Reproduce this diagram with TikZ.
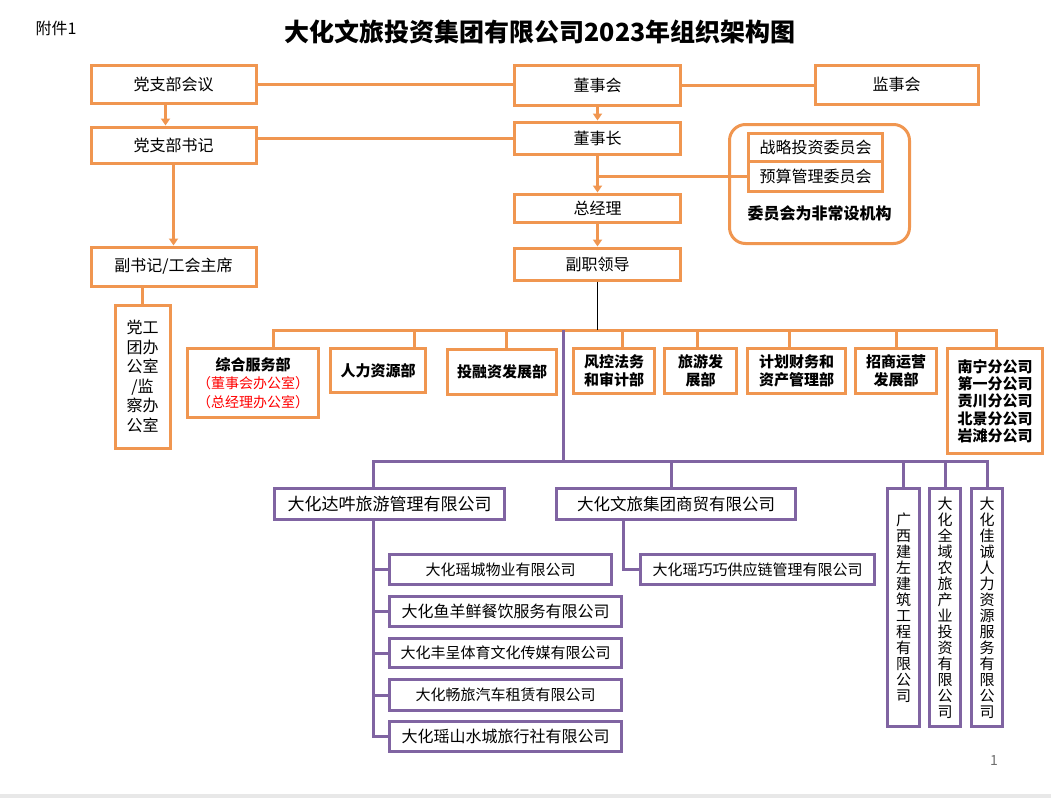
\documentclass[tikz,border=0pt]{standalone}
\usepackage{fontspec}
\setmainfont{Noto Sans CJK SC}
\usetikzlibrary{arrows.meta,calc,positioning}

\definecolor{orgline}{RGB}{240,150,80}
\definecolor{purline}{RGB}{128,100,162}
\definecolor{pgnum}{RGB}{110,110,110}
\definecolor{band}{RGB}{232,232,232}

\tikzset{
  sz/.style 2 args={minimum width=#1pt, minimum height=#2pt},
  obox/.style={draw=orgline, line width=3pt, fill=white, inner sep=0pt, align=center,
    font=\fontsize{16}{19}\selectfont},
  dept/.style={obox, font=\bfseries\fontsize{15}{18.5}\selectfont},
  pbox/.style={draw=purline, line width=3pt, fill=white, inner sep=0pt, align=center,
    font=\fontsize{15}{18}\selectfont},
  vcol/.style={pbox, font=\fontsize{15}{16}\selectfont},
  oline/.style={draw=orgline, line width=3pt},
  oarr/.style={oline, -{Triangle[length=7pt,width=9pt]}},
  pline/.style={draw=purline, line width=3pt},
}

\begin{document}
\begin{tikzpicture}[x=1pt, y=-1pt, >=Stealth]
    \useasboundingbox (0,0) rectangle (1051,798);

    % 标题
    \node[font=\fontsize{16}{19}\selectfont] (fj) at (56,28) {附件1};
    \node[font=\bfseries\fontsize{25}{30}\selectfont] (title) at (540,32) {大化文旅投资集团有限公司2023年组织架构图};

    % 党支部一列
    \node[obox, sz={165}{38}] (dzbhy) at (173.5,84) {党支部会议};
    \node[obox, sz={165}{36}] (dzbsj) at (173.5,145) {党支部书记};
    \node[obox, sz={165}{39}] (fsj) at (173.5,266.5) {副书记/工会主席};
    \node[obox, sz={55}{143}, font=\fontsize{16}{19.5}\selectfont] (dgt) at (142.5,376.5)
        {党工\\团办\\公室\\/监\\察办\\公室};

    % 董事会一列
    \node[obox, sz={166}{40}] (dsh) at (597.5,85.5) {董事会};
    \node[obox, sz={163}{39}] (jsh) at (896.5,84.5) {监事会};
    \node[obox, sz={166}{32}] (dsz) at (597.5,138) {董事长};
    \node[obox, sz={166}{28}] (zjl) at (597.5,208) {总经理};
    \node[obox, sz={166}{32}] (fzld) at (597.5,264) {副职领导};

    % 委员会
    \node[draw=orgline, line width=3pt, rounded corners=16pt, sz={180}{119}] (wyh) at (819.5,184) {};
    \node[obox, sz={134}{28}] (zltz) at (815.5,147) {战略投资委员会};
    \node[obox, sz={134}{30}] (ysgl) at (815.5,176) {预算管理委员会};
    \node[font=\bfseries\fontsize{16}{19}\selectfont] (wyhnote) at (819.5,213) {委员会为非常设机构};

    % 上层连线
    \draw[oline] (dzbhy.east) -- (dzbhy.east -| dsh.west);
    \draw[oline] (dsh.east) -- (dsh.east -| jsh.west);
    \draw[oline] (dsz.west) -- (dsz.west -| dzbsj.east);
    \draw[oarr] ([xshift=-8pt]dzbhy.south) -- ([xshift=-8pt]dzbsj.north);
    \draw[oarr] (dzbsj) -- (fsj);
    \draw[oline] (dgt.north) -- (dgt.north |- fsj.south);
    \draw[oarr] (dsh) -- (dsz);
    \draw[oarr] (dsz) -- (zjl);
    \draw[oline] (ysgl.west) -- (ysgl.west -| dsz.south);
    \draw[oarr] (zjl) -- (fzld);

    % 部门
    \node[dept, sz={131}{69}] (zhfw) at (253,383)
        {综合服务部\\{\mdseries\fontsize{14}{18.5}\selectfont\color{red}（董事会办公室）}\\{\mdseries\fontsize{14}{18.5}\selectfont\color{red}（总经理办公室）}};
    \node[dept, sz={95}{44}] (rlzy) at (378,370.5) {人力资源部};
    \node[dept, sz={109}{45}] (trz) at (502,372) {投融资发展部};
    \node[dept, sz={81}{45}] (fkfw) at (614,371) {风控法务\\和审计部};
    \node[dept, sz={72}{45}] (lyfz) at (700.5,371) {旅游发\\展部};
    \node[dept, sz={98}{45}] (jhcw) at (796.5,371) {计划财务和\\资产管理部};
    \node[dept, sz={81}{45}] (zsyy) at (896,371) {招商运营\\发展部};
    \node[dept, sz={95}{105}, font=\bfseries\fontsize{15}{17.3}\selectfont] (fgs) at (995,401)
        {南宁分公司\\第一分公司\\贡川分公司\\北景分公司\\岩滩分公司};

    % 部门连线
    \draw[oline] ($(zhfw.north)+(20,0)$) -- ++(0,-17) -| ($(fgs.north)+(1,0)$);
    \foreach \n/\dx in {rlzy/36, trz/4, fkfw/8, lyfz/-3.5, jhcw/-7.5, zsyy/0}
        \draw[oline] ($(\n.north)+(\dx,0)$) -- ++(0,-17);
    \coordinate (obus) at (563,330);
    \coordinate (pbus) at (563,461);
    \draw[black, line width=1pt] (fzld.south) -- (fzld.south |- obus);

    % 子公司
    \node[pbox, sz={230}{31}, font=\fontsize{17}{20}\selectfont] (dy) at (389.5,504) {大化达吽旅游管理有限公司};
    \node[pbox, sz={239}{31}, font=\fontsize{16.5}{20}\selectfont] (sm) at (676,504) {大化文旅集团商贸有限公司};
    \node[vcol, sz={32}{238}] (gx) at (903.5,607.5) {广\\西\\建\\左\\建\\筑\\工\\程\\有\\限\\公\\司};
    \node[vcol, sz={31}{238}] (qy) at (945,607.5) {大\\化\\全\\域\\农\\旅\\产\\业\\投\\资\\有\\限\\公\\司};
    \node[vcol, sz={31}{238}] (jc) at (987,607.5) {大\\化\\佳\\诚\\人\\力\\资\\源\\服\\务\\有\\限\\公\\司};

    \node[pbox, sz={222}{30}] (yc) at (500.5,569.5) {大化瑶城物业有限公司};
    \node[pbox, sz={232}{30}, font=\fontsize{16}{19}\selectfont] (yyx) at (505.5,611.5) {大化鱼羊鲜餐饮服务有限公司};
    \node[pbox, sz={232}{29}] (fc) at (505.5,653) {大化丰呈体育文化传媒有限公司};
    \node[pbox, sz={232}{31}] (cl) at (505.5,695) {大化畅旅汽车租赁有限公司};
    \node[pbox, sz={232}{30}, font=\fontsize{16}{19}\selectfont] (ys) at (505.5,736.5) {大化瑶山水城旅行社有限公司};
    \node[pbox, sz={234}{30}] (gl) at (757.5,569.5) {大化瑶巧巧供应链管理有限公司};

    % 子公司连线
    \draw[pline] (obus) -- (pbus);
    \draw[pline] ($(dy.north west)+(100,0)$) -- ++(0,-26) -| (jc.north);
    \foreach \n/\dx in {sm/-5, gx/0, qy/0}
        \draw[pline] ($(\n.north)+(\dx,0)$) -- ++(0,-26);
    \coordinate (dyt) at ($(dy.south west)+(100,0)$);
    \draw[pline] (dyt) |- (ys.west);
    \foreach \c in {yc, yyx, fc, cl}
        \draw[pline] (dyt |- \c.west) -- (\c.west);
    \draw[pline] ($(sm.south west)+(68,0)$) |- (gl.west);

    % 页码
    \node[text=pgnum, font=\fontsize{14}{17}\selectfont] (pg) at (994,760) {1};
    \fill[band] (0,794) rectangle (1051,798);
\end{tikzpicture}
\end{document}
